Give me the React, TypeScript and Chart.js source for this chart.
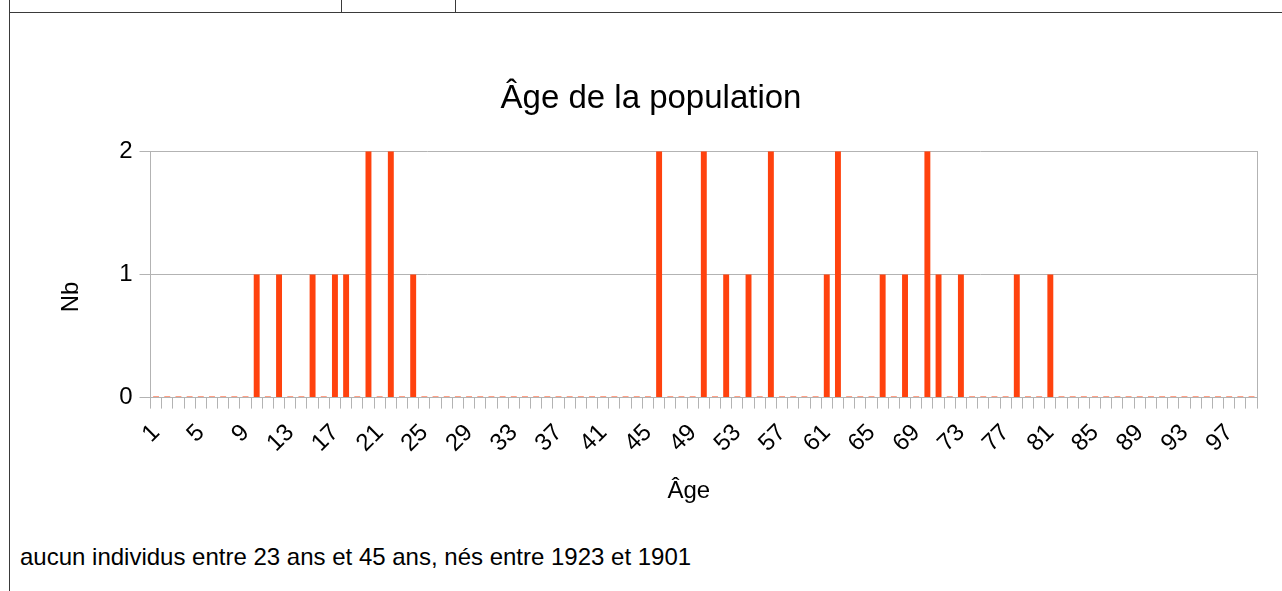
import React, { useEffect, useRef } from 'react';
import { Chart, registerables } from 'chart.js';

Chart.register(...registerables);

const FONT = "'Liberation Sans', Arial, sans-serif";

const chartTitle = 'Âge de la population';
const xAxisTitle = 'Âge';
const yAxisTitle = 'Nb';
const noteText = 'aucun individus entre 23 ans et 45 ans, nés entre 1923 et 1901';

// Ages (categories)
const ages = [
  1, 2, 3, 4, 5, 6, 7, 8, 9, 10,
  11, 12, 13, 14, 15, 16, 17, 18, 19, 20,
  21, 22, 23, 24, 25, 26, 27, 28, 29, 30,
  31, 32, 33, 34, 35, 36, 37, 38, 39, 40,
  41, 42, 43, 44, 45, 46, 47, 48, 49, 50,
  51, 52, 53, 54, 55, 56, 57, 58, 59, 60,
  61, 62, 63, 64, 65, 66, 67, 68, 69, 70,
  71, 72, 73, 74, 75, 76, 77, 78, 79, 80,
  81, 82, 83, 84, 85, 86, 87, 88, 89, 90,
  91, 92, 93, 94, 95, 96, 97, 98, 99,
];

// Number of people per age
const counts = [
  0, 0, 0, 0, 0, 0, 0, 0, 0, 1,
  0, 1, 0, 0, 1, 0, 1, 1, 0, 2,
  0, 2, 0, 1, 0, 0, 0, 0, 0, 0,
  0, 0, 0, 0, 0, 0, 0, 0, 0, 0,
  0, 0, 0, 0, 0, 2, 0, 0, 0, 2,
  0, 1, 0, 1, 0, 2, 0, 0, 0, 0,
  1, 2, 0, 0, 0, 1, 0, 1, 0, 2,
  1, 0, 1, 0, 0, 0, 0, 1, 0, 0,
  1, 0, 0, 0, 0, 0, 0, 0, 0, 0,
  0, 0, 0, 0, 0, 0, 0, 0, 0,
];

const yTickValues = [0, 1, 2];
const xLabelEvery = 4;

const GRID = '#b3b3b3';
const BAR = '#ff420e';
const LINE = '#3a3a3a';

const axisTitlesPlugin = {
  id: 'axisTitles',
  afterDraw(chart: any) {
    const { ctx, chartArea } = chart;
    ctx.save();
    ctx.fillStyle = '#000';
    ctx.font = `24px ${FONT}`;
    ctx.textAlign = 'center';
    ctx.textBaseline = 'alphabetic';
    // x-axis title, centred on the diagram including value labels
    ctx.fillText(xAxisTitle, (chartArea.left - 30 + chartArea.right) / 2, chartArea.bottom + 100);
    // y-axis title
    ctx.translate(71, (chartArea.top + chartArea.bottom + 45) / 2);
    ctx.rotate(-Math.PI / 2);
    ctx.textBaseline = 'middle';
    ctx.fillText(yAxisTitle, 0, 0);
    ctx.restore();
  },
};

export default function App() {
  const canvasRef = useRef<HTMLCanvasElement | null>(null);

  useEffect(() => {
    const canvas = canvasRef.current;
    if (!canvas) return;
    const chart = new Chart(canvas, {
      type: 'bar',
      data: {
        labels: ages.map(String),
        datasets: [
          {
            label: yAxisTitle,
            data: counts,
            backgroundColor: BAR,
            borderWidth: 0,
            categoryPercentage: 0.53,
            barPercentage: 1,
            minBarLength: 1,
            xAxisID: 'x',
            yAxisID: 'y',
          },
        ],
      },
      options: {
        animation: false,
        responsive: true,
        maintainAspectRatio: false,
        layout: { padding: { left: 39.5, right: 19.5, top: 0, bottom: 0 } },
        plugins: {
          legend: { display: false },
          tooltip: { enabled: false },
          title: {
            display: true,
            text: chartTitle,
            color: '#000',
            font: { family: FONT, size: 33, weight: 'normal', lineHeight: 1.2 },
            padding: { top: 79.6, bottom: 32 },
          },
        },
        scales: {
          x: {
            type: 'category',
            offset: true,
            grid: {
              offset: true,
              drawOnChartArea: false,
              drawTicks: true,
              tickLength: 11,
              color: GRID,
              lineWidth: 1,
            },
            border: { display: true, color: GRID },
            ticks: {
              autoSkip: false,
              minRotation: 45,
              maxRotation: 45,
              padding: 10,
              color: '#000',
              font: { family: FONT, size: 24 },
              callback: (_v: any, i: number) => (i % xLabelEvery === 0 ? String(ages[i]) : ''),
            },
            afterFit: (s: any) => {
              s.height = 122.4;
            },
          },
          y: {
            type: 'linear',
            position: 'left',
            min: 0,
            max: 2,
            grid: { color: GRID, tickLength: 11, lineWidth: 1 },
            border: { display: true, color: GRID },
            ticks: {
              padding: 7,
              color: '#000',
              font: { family: FONT, size: 24 },
            },
            afterBuildTicks: (s: any) => {
              s.ticks = yTickValues.map((v) => ({ value: v }));
            },
            afterFit: (s: any) => {
              s.width = 111;
            },
          },
          y2: {
            type: 'linear',
            position: 'right',
            display: true,
            grid: { drawOnChartArea: false, drawTicks: false },
            ticks: { display: false },
            border: { display: true, color: GRID },
            afterFit: (s: any) => {
              s.width = 0;
            },
          },
        },
      },
      plugins: [axisTitlesPlugin],
    } as any);
    return () => chart.destroy();
  }, []);

  return (
    <div
      style={{
        position: 'fixed',
        left: 0,
        top: 0,
        width: 1282,
        height: 591,
        background: '#fff',
        overflow: 'hidden',
      }}
    >
      {/* spreadsheet cell borders */}
      <div style={{ position: 'absolute', left: 9, top: 0, width: 1, height: 591, background: LINE }} />
      <div style={{ position: 'absolute', left: 9, top: 12, width: 1273, height: 1, background: LINE }} />
      <div style={{ position: 'absolute', left: 341, top: 0, width: 1, height: 12, background: LINE }} />
      <div style={{ position: 'absolute', left: 455, top: 0, width: 1, height: 12, background: LINE }} />
      <div style={{ position: 'absolute', left: 0, top: 0, width: 1282, height: 520 }}>
        <canvas ref={canvasRef} />
      </div>
      <div
        style={{
          position: 'absolute',
          left: 20,
          top: 545,
          fontFamily: FONT,
          fontSize: 24,
          lineHeight: '24px',
          color: '#000',
          whiteSpace: 'nowrap',
        }}
      >
        {noteText}
      </div>
    </div>
  );
}
